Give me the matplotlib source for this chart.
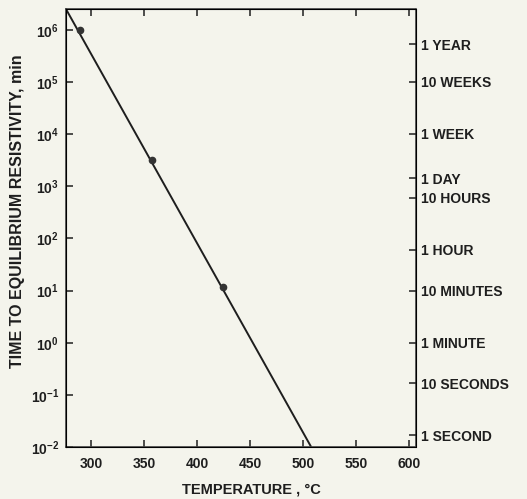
import numpy as np
import matplotlib.pyplot as plt

# measured points (temperature in C, time in minutes)
temp_pts = [289, 357, 424]
time_pts = [1.0e6, 3.2e3, 11.5]

# fitted straight line across the whole plot
line_temp = [276, 507.5]
line_time = [2.5e6, 1.0e-2]

x_ticks = [300, 350, 400, 450, 500, 550, 600]
y_ticks = [1e-2, 1e-1, 1e0, 1e1, 1e2, 1e3, 1e4, 1e5, 1e6]
y_ticklabels = ["$10^{-2}$", "$10^{-1}$", "$10^{0}$", "$10^{1}$", "$10^{2}$",
                "$10^{3}$", "$10^{4}$", "$10^{5}$", "$10^{6}$"]

# equivalent times on the right hand scale, in minutes
time_names = ["1 YEAR", "10 WEEKS", "1 WEEK", "1 DAY", "10 HOURS",
              "1 HOUR", "10 MINUTES", "1 MINUTE", "10 SECONDS", "1 SECOND"]
time_minutes = [525600, 100800, 10080, 1440, 600, 60, 10, 1, 1 / 6, 1 / 60]

bg = "#f4f4ec"
ink = "#1e1e1e"
plt.rcParams['font.family'] = ['Liberation Sans', 'DejaVu Sans']
plt.rcParams['mathtext.fontset'] = 'custom'
plt.rcParams['mathtext.rm'] = 'Liberation Sans:bold'
plt.rcParams['mathtext.it'] = 'Liberation Sans:bold'

fig = plt.figure(figsize=(5.27, 4.99), dpi=100, facecolor=bg)
ax = fig.add_axes([66 / 527, 1 - 447 / 499, (415.5 - 66) / 527, (447 - 9) / 499])
ax.set_facecolor(bg)

ax.plot(line_temp, line_time, color=ink, lw=1.4, solid_capstyle='butt')
ax.plot(temp_pts, time_pts, 'o', color='#333333', ms=4.5)

ax.set_yscale('log')
ax.set_xlim(276, 606)
ax.set_ylim(1e-2, 10 ** 6.4)

ax.set_xticks(x_ticks)
ax.set_xticklabels([str(t) for t in x_ticks], fontsize=10, fontweight='bold', color=ink)
ax.set_yticks(y_ticks)
ax.set_yticklabels(y_ticklabels, fontsize=10, color=ink)
ax.yaxis.set_minor_locator(plt.NullLocator())
ax.tick_params(direction='in', length=5, width=1.1, colors=ink, top=True, pad=6)
ax.tick_params(axis='x', labelcolor=ink, pad=7)
ax.tick_params(axis='y', labelcolor=ink, pad=5)
for sp in ax.spines.values():
    sp.set_color('#444444')
    sp.set_linewidth(1.2)

ax2 = ax.twinx()
ax2.set_yscale('log')
ax2.set_ylim(ax.get_ylim())
ax2.set_yticks(time_minutes)
ax2.set_yticklabels(time_names, fontsize=10, fontweight='bold', color=ink)
ax2.yaxis.set_minor_locator(plt.NullLocator())
ax2.tick_params(direction='in', length=5, width=1.1, colors=ink, pad=4)
ax2.tick_params(axis='y', labelcolor=ink)

ax.set_xlabel("TEMPERATURE , °C", fontsize=10.5, fontweight='bold', color=ink)
ax.xaxis.set_label_coords((251 - 66) / 349.5, -(490 - 447) / 438, transform=None)
ax.xaxis.label.set_verticalalignment('center')
ax.xaxis.label.set_transform(ax.transAxes)
ax.set_ylabel("TIME TO EQUILIBRIUM RESISTIVITY, min", fontsize=11.5, fontweight='bold',
              color=ink)
ax.yaxis.label.set_verticalalignment('center')
ax.yaxis.set_label_coords(-(66 - 18) / 349.5, (447 - 211) / 438)

fig.savefig("out.png", dpi=100, facecolor=bg)
